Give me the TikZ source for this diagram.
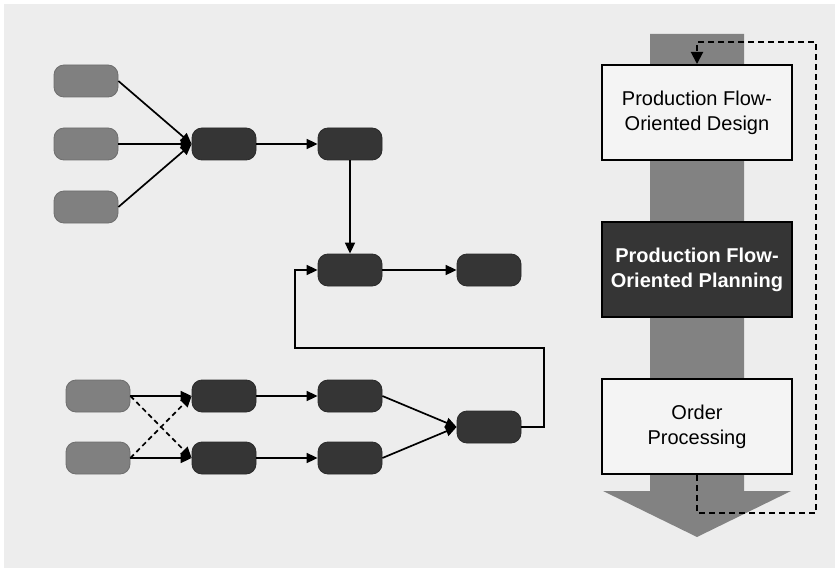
\documentclass[tikz,border=0pt]{standalone}
\usepackage{fontspec}
\setmainfont{Liberation Sans}
\usetikzlibrary{arrows.meta}
\definecolor{bgc}{HTML}{EDEDED}
\definecolor{srcc}{HTML}{808080}
\definecolor{srcb}{HTML}{6E6E6E}
\definecolor{opc}{HTML}{353535}
\definecolor{opb}{HTML}{2A2A2A}
\definecolor{shaft}{HTML}{828282}
\definecolor{lightbox}{HTML}{F4F4F4}
\tikzset{
  srcnode/.style={rounded corners=10bp, minimum width=64bp, minimum height=32bp,
    fill=srcc, draw=srcb, line width=0.8bp, inner sep=0pt},
  opnode/.style={rounded corners=10bp, minimum width=64bp, minimum height=32bp,
    fill=opc, draw=opb, line width=0.8bp, inner sep=0pt},
  phase/.style={draw=black, line width=2bp, minimum width=190bp, minimum height=95bp,
    inner sep=0pt, align=center, font=\fontsize{20bp}{25bp}\selectfont},
  flow/.style={line width=1.7bp, draw=black, -{Triangle[length=11bp,width=10bp]}},
  alt/.style={flow, dashed, dash pattern=on 5bp off 3.5bp},
  loop/.style={line width=2bp, draw=black, dash pattern=on 6bp off 4bp,
    -{Triangle[length=12bp,width=12bp]}}
}
\begin{document}
\begin{tikzpicture}[x=1bp, y=-1bp]
\useasboundingbox (0,0) rectangle (835,569);
\fill[white] (0,0) rectangle (835,569);
\fill[bgc] (4,4) rectangle (835,568);

% upper network
\node[srcnode] (s1) at (86,81) {};
\node[srcnode] (s2) at (86,144) {};
\node[srcnode] (s3) at (86,207) {};
\node[opnode] (a) at (224,144) {};
\node[opnode] (b) at (350,144) {};
\node[opnode] (c) at (350,270) {};
\node[opnode] (d) at (489,270) {};

% lower network
\node[srcnode] (t1) at (98,396) {};
\node[srcnode] (t2) at (98,458) {};
\node[opnode] (e1) at (224,396) {};
\node[opnode] (e2) at (224,458) {};
\node[opnode] (f1) at (350,396) {};
\node[opnode] (f2) at (350,458) {};
\node[opnode] (g) at (489,427) {};

\draw[flow] (s1.east) -- (a.west);
\draw[flow] (s2.east) -- (a.west);
\draw[flow] (s3.east) -- (a.west);
\draw[flow] (a) -- (b);
\draw[flow] (b) -- (c);
\draw[flow] (c) -- (d);

\draw[flow] (t1.east) -- (e1.west);
\draw[flow] (t2.east) -- (e2.west);
\draw[alt] (t1.east) -- (e2.west);
\draw[alt] (t2.east) -- (e1.west);
\draw[flow] (e1) -- (f1);
\draw[flow] (e2) -- (f2);
\draw[flow] (f1.east) -- (g.west);
\draw[flow] (f2.east) -- (g.west);

\coordinate (r1) at (544,348);
\coordinate (r2) at (295,348);
\draw[flow] (g.east) -| (r1) -- (r2) |- (c.west);

% process arrow
\fill[shaft] (650,34) -- (744,34) -- (744,491) -- (791,491) -- (697,537)
  -- (603,491) -- (650,491) -- cycle;

\node[phase, fill=lightbox] (p1) at (697,112.5) {Production Flow-\\Oriented Design};
\node[phase, fill=opc, text=white, font=\fontsize{20bp}{25bp}\selectfont\bfseries] (p2) at (697,269.5) {Production Flow-\\Oriented Planning};
\node[phase, fill=lightbox] (p3) at (697,426.5) {Order\\Processing};

\coordinate (q1) at (697,513);
\coordinate (q2) at (816,513);
\coordinate (q3) at (816,42);
\coordinate (q4) at (697,42);
\draw[loop] (p3.south) -- (q1) -- (q2) -- (q3) -- (q4) -- (p1.north);
\end{tikzpicture}
\end{document}
